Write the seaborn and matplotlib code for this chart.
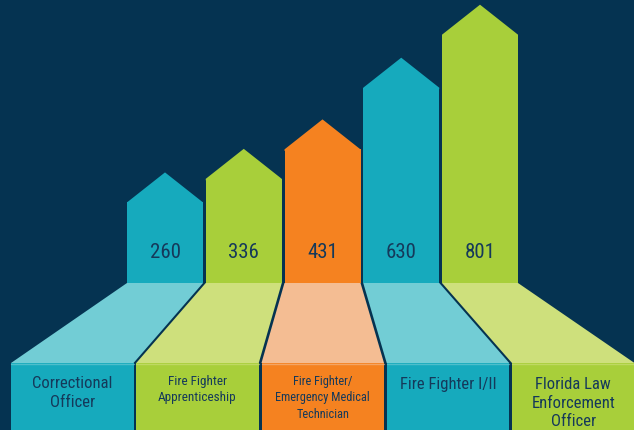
import matplotlib
matplotlib.use("Agg")
import matplotlib.pyplot as plt
from matplotlib.patches import Polygon, Rectangle
from matplotlib import font_manager as fm
import seaborn as sns

# ---- data ----
categories = ["Correctional Officer", "Fire Fighter Apprenticeship",
              "Fire Fighter/ Emergency Medical Technician",
              "Fire Fighter I/II", "Florida Law Enforcement Officer"]
values = [260, 336, 431, 630, 801]
box_labels = ["Correctional\nOfficer", "Fire Fighter\nApprenticeship",
              "Fire Fighter/\nEmergency Medical\nTechnician",
              "Fire Fighter I/II", "Florida Law\nEnforcement\nOfficer"]
label_sizes = [12, 9.5, 8.8, 12, 12]
bar_colors = ["#16AABD", "#A8CF3A", "#F58220", "#16AABD", "#A8CF3A"]
light_colors = ["#72CDD5", "#CEE07C", "#F4BD93", "#72CDD5", "#CEE07C"]

BG = "#053351"
TXT = "#15395A"

sns.set_theme(style="white")
names = {f.name for f in fm.fontManager.ttflist}
font = next((n for n in ["Roboto Condensed", "Liberation Sans Narrow", "Roboto"] if n in names), "DejaVu Sans")
plt.rcParams["font.family"] = [font, "DejaVu Sans"]

W, H = 634, 430
fig = plt.figure(figsize=(W / 100, H / 100), dpi=100, facecolor=BG)

# background / decorative layer in pixel coordinates
axb = fig.add_axes([0, 0, 1, 1])
axb.set_xlim(0, W)
axb.set_ylim(H, 0)
axb.set_facecolor(BG)
axb.axis("off")

base_y = 283
box_top = 363
bar_left0, bar_step, bar_w = 127, 78.75, 76
box_left0, box_step, box_w = 11, 125.25, 122.5
for i in range(len(categories)):
    bl = bar_left0 + i * bar_step
    br = bl + bar_w
    xl = box_left0 + i * box_step
    xr = xl + box_w
    axb.add_patch(Polygon([(bl, base_y), (br, base_y), (xr, box_top), (xl, box_top)],
                          closed=True, facecolor=light_colors[i], edgecolor="none", zorder=1))
    axb.add_patch(Rectangle((xl, box_top), box_w, H - box_top + 2,
                            facecolor=bar_colors[i], edgecolor="none", zorder=2))
    axb.plot([xl, xr], [box_top + 0.5, box_top + 0.5], color=light_colors[i], lw=1, alpha=0.6, zorder=3)
    lines = box_labels[i].split("\n")
    if len(lines) == 1:
        ys = [384]
    elif len(lines) == 2:
        ys = [383.5, 402.5] if label_sizes[i] > 11 else [382, 398]
    else:
        ys = [384.5, 403.5, 421.5] if label_sizes[i] > 11 else [382, 398, 414]
    for ln, yy in zip(lines, ys):
        axb.text((xl + xr) / 2, yy, ln, ha="center", va="center",
                 fontsize=label_sizes[i], color=TXT, zorder=4)

# bar layer in data coordinates
k = 1 / 0.31  # value units per pixel
ax = fig.add_axes([0, 0, 1, 1])
ax.patch.set_alpha(0)
sns.barplot(x=categories, y=values, hue=categories, palette=bar_colors,
            width=bar_w / bar_step, legend=False, ax=ax, saturation=1, linewidth=0)
head = 30 * k
overlap = 1.5 * k
for p in ax.patches:
    x0 = p.get_x()
    w = p.get_width()
    h = p.get_height()
    ax.add_patch(Polygon([(x0, h - overlap), (x0, h), (x0 + w / 2, h + head),
                          (x0 + w, h), (x0 + w, h - overlap)], closed=True,
                         facecolor=p.get_facecolor(), edgecolor="none"))
for i, v in enumerate(values):
    ax.text(i, (base_y - 253) * k, str(v), ha="center", va="center",
            fontsize=15, color=TXT)

ax.set_xlim(-(bar_left0 + bar_w / 2) / bar_step, (W - bar_left0 - bar_w / 2) / bar_step)
ax.set_ylim(-(H - base_y) * k, base_y * k)
ax.axis("off")

fig.savefig("out.png", dpi=100, facecolor=BG)
